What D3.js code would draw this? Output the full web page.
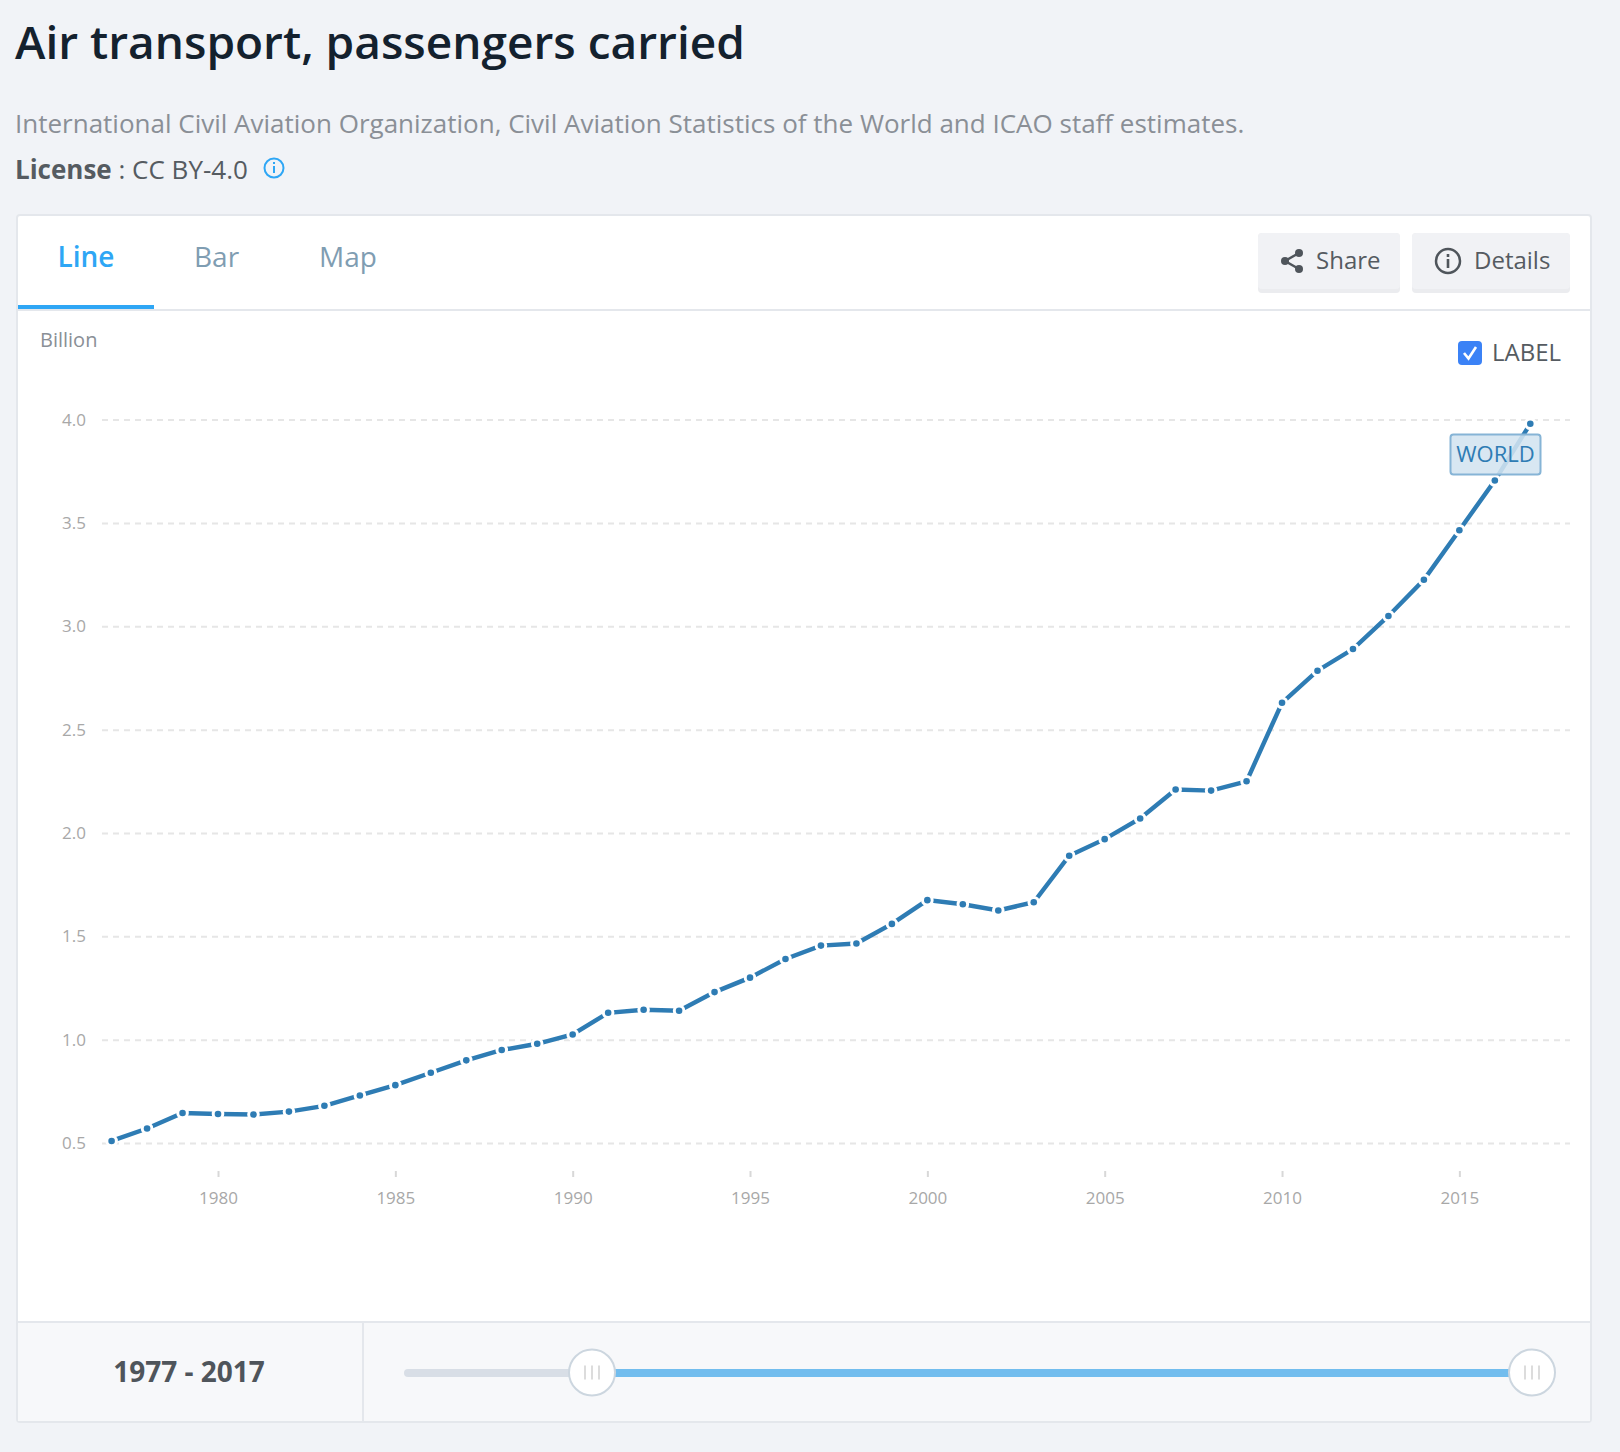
<!DOCTYPE html>
<html><head><meta charset="utf-8">
<script src="https://cdnjs.cloudflare.com/ajax/libs/d3/7.8.5/d3.min.js"></script>
<style>
html,body{margin:0;padding:0;background:#f1f3f7}
svg{display:block;font-family:"Open Sans",sans-serif}
.axis text{fill:#a8a8a8;font-size:17px;font-family:"Open Sans",sans-serif}
</style></head><body><div id="c"></div>
<script>
const years=d3.range(1977,2018);
const passengers=[0.51,0.57,0.645,0.64,0.638,0.652,0.68,0.73,0.78,0.84,0.90,0.95,0.98,1.025,1.13,1.145,1.14,1.23,1.30,1.39,1.455,1.465,1.56,1.675,1.655,1.625,1.665,1.89,1.97,2.07,2.21,2.205,2.25,2.63,2.785,2.89,3.05,3.225,3.465,3.705,3.98];
const yTicks=[0.5,1,1.5,2,2.5,3,3.5,4];
const xTicks=[1980,1985,1990,1995,2000,2005,2010,2015];
const seriesName="WORLD";
const tabs=["Line","Bar","Map"];

const svg=d3.select("#c").append("svg").attr("width",1620).attr("height",1452);
const T=(s,x,y,size,fill,w,anchor)=>svg.append("text").text(s).attr("x",x).attr("y",y).attr("font-size",size).attr("fill",fill).attr("font-weight",w||400).attr("text-anchor",anchor||"start");

T("Air transport, passengers carried",15,59,46,"#14212e",600);
T("International Civil Aviation Organization, Civil Aviation Statistics of the World and ICAO staff estimates.",15,133,26,"#8a8f96");
const lic=T("",15,179,26,"#555b61");
lic.append("tspan").attr("font-weight",700).text("License");
lic.append("tspan").text(" : CC BY-4.0");
const info=svg.append("g").attr("transform","translate(274,168)");
info.append("circle").attr("r",9.5).attr("fill","none").attr("stroke","#2ea6f5").attr("stroke-width",2);
info.append("rect").attr("x",-1).attr("y",-2).attr("width",2).attr("height",7).attr("fill","#2ea6f5");
info.append("rect").attr("x",-1).attr("y",-6).attr("width",2).attr("height",2).attr("fill","#2ea6f5");

// card
svg.append("rect").attr("x",17).attr("y",215).attr("width",1574).attr("height",1207).attr("rx",3).attr("fill","#fff").attr("stroke","#e4e7ec").attr("stroke-width",2);
svg.append("rect").attr("x",18).attr("y",1322).attr("width",1572).attr("height",99).attr("fill","#f7f8fa");
svg.append("line").attr("x1",18).attr("x2",1590).attr("y1",1322).attr("y2",1322).attr("stroke","#e4e7ec").attr("stroke-width",2);
svg.append("line").attr("x1",363).attr("x2",363).attr("y1",1322).attr("y2",1421).attr("stroke","#e4e7ec").attr("stroke-width",2);
svg.append("line").attr("x1",18).attr("x2",1590).attr("y1",310).attr("y2",310).attr("stroke","#e4e7ec").attr("stroke-width",2);
svg.append("rect").attr("x",18).attr("y",305).attr("width",136).attr("height",4).attr("fill","#2ea6f5");
T(tabs[0],57.5,267,28,"#2ea6f5",600);
T(tabs[1],194,267,28,"#7f9db2");
T(tabs[2],319,267,28,"#7f9db2");

// buttons
[[1258,142,"Share"],[1412,158,"Details"]].forEach(([x,w,s])=>{
  svg.append("rect").attr("x",x).attr("y",233).attr("width",w).attr("height",60).attr("rx",4).attr("fill","#ebecef");
  svg.append("rect").attr("x",x).attr("y",233).attr("width",w).attr("height",56).attr("rx",4).attr("fill","#f1f2f5");
});
T("Share",1316,269,24,"#555b61");
T("Details",1474,269,24,"#555b61");
svg.append("path").attr("d","M1299 253L1285 261L1299 269").attr("fill","none").attr("stroke","#4f555b").attr("stroke-width",2.5);
const sh=svg.append("g").attr("fill","#4f555b");
[[1285,261],[1299,253],[1299,269]].forEach(p=>sh.append("circle").attr("cx",p[0]).attr("cy",p[1]).attr("r",4));
const di=svg.append("g").attr("transform","translate(1448,261)");
di.append("circle").attr("r",12).attr("fill","none").attr("stroke","#4f555b").attr("stroke-width",2.5);
di.append("rect").attr("x",-1.3).attr("y",-2).attr("width",2.6).attr("height",9).attr("fill","#4f555b");
di.append("rect").attr("x",-1.3).attr("y",-7).attr("width",2.6).attr("height",3).attr("fill","#4f555b");

// label checkbox
svg.append("rect").attr("x",1458).attr("y",341).attr("width",24).attr("height",24).attr("rx",4).attr("fill","#3b82f6");
svg.append("path").attr("d","M1464 353L1468.5 358.5L1476 347").attr("fill","none").attr("stroke","#fff").attr("stroke-width",2.6);
T("LABEL",1492,361,24,"#555b61");
T("Billion",40,347,20,"#8a8f96");

// scales
const x=d3.scaleLinear().domain([1977,2017]).range([111.6,1530.3]);
const y=d3.scaleLinear().domain([0.5,4]).range([1143,419.6]);

const gy=svg.append("g").attr("class","axis").attr("transform","translate(102,0)")
 .call(d3.axisLeft(y).tickValues(yTicks).tickFormat(d3.format(".1f")).tickSize(-1468).tickPadding(16));
gy.select(".domain").remove();
gy.selectAll("line").attr("stroke","#e6e6e6").attr("stroke-width",2).attr("stroke-dasharray","6 5");
const gx=svg.append("g").attr("class","axis").attr("transform","translate(0,1171)")
 .call(d3.axisBottom(x).tickValues(xTicks).tickFormat(d3.format("d")).tickSize(6).tickPadding(15));
gx.select(".domain").remove();
gx.selectAll("line").attr("stroke","#d8d8d8").attr("stroke-width",2);

// line
const line=d3.line().x((d,i)=>x(years[i])).y(d=>y(d));
svg.append("path").datum(passengers).attr("d",line).attr("fill","none").attr("stroke","#2e7cb4").attr("stroke-width",4.4);
svg.append("g").selectAll("circle").data(passengers).join("circle")
 .attr("cx",(d,i)=>x(years[i])).attr("cy",d=>y(d)).attr("r",3.3).attr("fill","#2e7cb4").attr("stroke","#fff").attr("stroke-width",6).attr("paint-order","stroke");

// series label
svg.append("rect").attr("x",1450.5).attr("y",434.5).attr("width",90).attr("height",40).attr("rx",3).attr("fill","#d3e4f0").attr("fill-opacity",.88).attr("stroke","#86b4d6").attr("stroke-width",2);
T(seriesName,1495.5,462,22,"#2e7cb4",400,"middle");

// footer
T("1977 - 2017",189,1382,28,"#4f555b",700,"middle");
svg.append("rect").attr("x",404).attr("y",1369).attr("width",190).attr("height",8).attr("rx",4).attr("fill","#d8dee6");
svg.append("rect").attr("x",592).attr("y",1369).attr("width",936).attr("height",8).attr("fill","#72bdee");
[592,1532].forEach(cx=>{
  const g=svg.append("g").attr("transform",`translate(${cx},1372.5)`);
  g.append("circle").attr("r",23).attr("fill","#fff").attr("stroke","#ccd6df").attr("stroke-width",2);
  [-7,0,7].forEach(d=>g.append("rect").attr("x",d-1).attr("y",-7).attr("width",2).attr("height",14).attr("fill","#dcdcdc"));
});
</script></body></html>
